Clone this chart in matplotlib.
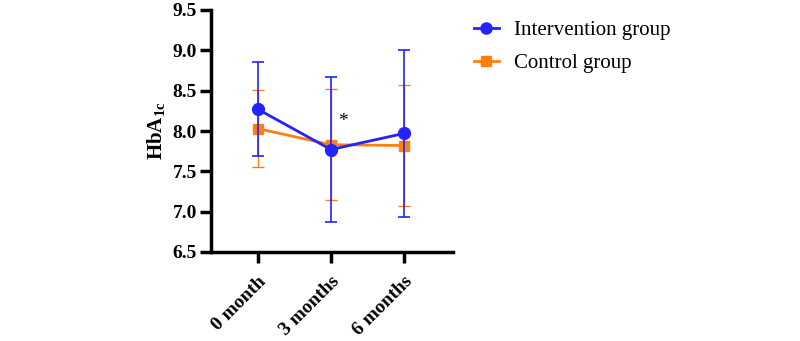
import matplotlib.pyplot as plt
from matplotlib.lines import Line2D

plt.rcParams['font.family'] = ['Liberation Serif', 'DejaVu Serif']
plt.rcParams['mathtext.fontset'] = 'custom'
plt.rcParams['mathtext.rm'] = 'Liberation Serif'
plt.rcParams['mathtext.bf'] = 'Liberation Serif:bold'

# data
timepoints = ['0 month', '3 months', '6 months']
interv_mean = [8.27, 7.77, 7.97]
interv_err = [0.58, 0.90, 1.03]
control_mean = [8.03, 7.83, 7.82]
control_err = [0.48, 0.69, 0.75]

blue = '#2323ff'
orange = '#ff8011'

fig = plt.figure(figsize=(8, 3.41), dpi=100)
ax = fig.add_axes([211 / 800, 1 - 252 / 341, (453 - 211) / 800, (252 - 10) / 341])

x = list(range(len(timepoints)))
ax.errorbar(x, control_mean, yerr=control_err, color=orange, marker='s', markersize=7,
            linewidth=2, elinewidth=1, capsize=4, capthick=1, zorder=2)
ax.errorbar(x, interv_mean, yerr=interv_err, color=blue, marker='o', markersize=8.5,
            linewidth=2, elinewidth=1.2, capsize=4, capthick=1.2, zorder=3)

ax.text(1.16, 8.12, '*', ha='center', va='center', fontsize=14)

ax.set_xlim(-0.64, 2.67)
ax.set_ylim(6.5, 9.5)
ax.set_yticks([6.5, 7.0, 7.5, 8.0, 8.5, 9.0, 9.5])
ax.set_yticklabels(['6.5', '7.0', '7.5', '8.0', '8.5', '9.0', '9.5'], fontsize=14, fontweight='bold')
ax.set_xticks(x)
ax.set_xticklabels(timepoints, rotation=45, ha='right', rotation_mode='anchor',
                   fontsize=14, fontweight='bold')
ax.set_ylabel(r'$\mathbf{HbA_{1c}}$', fontsize=15, labelpad=4)

for s in ['top', 'right']:
    ax.spines[s].set_visible(False)
for s in ['left', 'bottom']:
    ax.spines[s].set_linewidth(2.5)
ax.tick_params(width=2.5, length=8, direction='out', pad=2)
ax.tick_params(axis='x', pad=7)

handles = [Line2D([], [], color=blue, marker='o', markersize=8, linewidth=2),
           Line2D([], [], color=orange, marker='s', markersize=7, linewidth=2)]
fig.legend(handles, ['Intervention group', 'Control group'], loc='upper left',
           bbox_to_anchor=(455 / 800, 1 - 2 / 341), frameon=False, fontsize=15,
           handlelength=1.2, handletextpad=0.75, labelspacing=0.65)

fig.savefig('out.png', dpi=100)
